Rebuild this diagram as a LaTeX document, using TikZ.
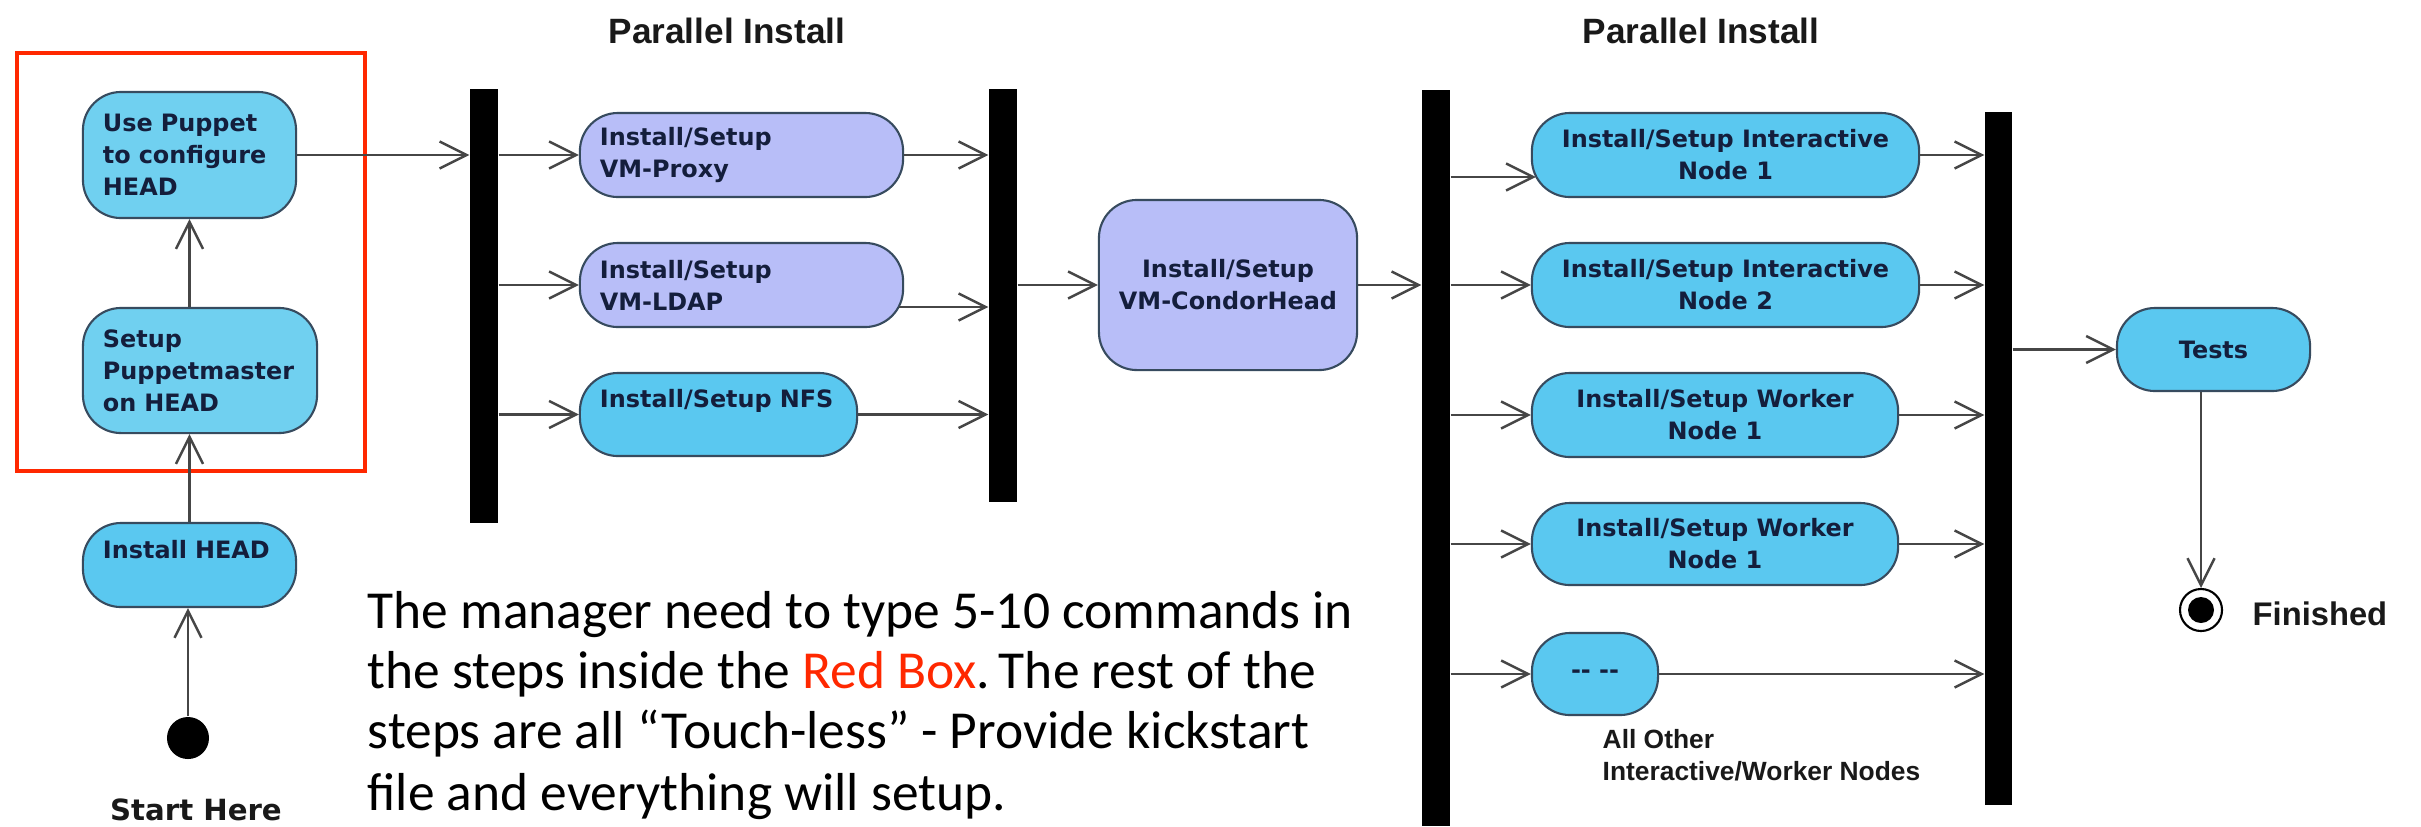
\documentclass[tikz,border=0pt]{standalone}
\usepackage{fontspec}
\usetikzlibrary{arrows.meta,calc}
\newfontfamily\djv{DejaVu Sans}
\newfontfamily\lib{Liberation Sans}
\newfontfamily\carl{Carlito}
\definecolor{cyanfill}{RGB}{90,200,240}
\definecolor{cyanlite}{RGB}{112,208,240}
\definecolor{lavfill}{RGB}{184,190,248}
\definecolor{nodeline}{RGB}{55,75,95}
\definecolor{nodetext}{RGB}{20,30,60}
\definecolor{edgecol}{RGB}{70,70,70}
\definecolor{redbox}{RGB}{255,40,0}
\definecolor{labelcol}{RGB}{25,25,25}
\begin{document}
\begin{tikzpicture}[x=0.01cm,y=-0.01cm,
  act/.style={draw=nodeline, line width=0.6pt, rounded corners=0.38cm,
    inner xsep=0.2cm, inner ysep=0pt, text=nodetext,
    font=\djv\bfseries\fontsize{6.8}{9.1}\selectfont},
  actL/.style={act, align=left},
  actC/.style={act, align=center},
  bar/.style={fill=black, draw=none, minimum width=0.28cm, inner sep=0pt},
  flow/.style={draw=edgecol, line width=0.7pt,
    -{Straight Barb[length=2.7mm,width=2.7mm]}},
  lbl/.style={inner sep=0pt, text=labelcol},
  title/.style={lbl, anchor=base, font=\lib\bfseries\fontsize{10}{12}\selectfont},
  para/.style={inner sep=0pt, anchor=base west, text=black,
    font=\carl\fontsize{15.2}{17.3}\selectfont}
]
\useasboundingbox (0,0) rectangle (2421,826);
\fill[white] (0,0) rectangle (2421,826);

% red box
\draw[redbox, line width=1.4pt] (17,53) rectangle (365,471);

% left column
\node[actL, fill=cyanlite, text width=1.73cm, minimum height=1.26cm] (puppet) at (189.5,155) {Use Puppet\\to configure\\HEAD};
\node[actL, fill=cyanlite, text width=1.94cm, minimum height=1.25cm] (setup) at (200,370.5) {Setup\\Puppetmaster\\on HEAD};
\node[actL, fill=cyanfill, text width=1.73cm, minimum height=0.84cm] (ihead) at (189.5,565) {Install HEAD\\\mbox{}};
\node[circle, fill=black, minimum size=0.42cm, inner sep=0pt] (start) at (188,738) {};
\node[lbl, anchor=base, font=\djv\bfseries\fontsize{8.3}{10}\selectfont] (starthere) at (196,820) {Start Here};

% titles
\node[title] (par1) at (727,43) {Parallel Install};
\node[title] (par2) at (1701,43) {Parallel Install};

% bars
\node[bar, minimum height=4.34cm] (bar1) at (484,306) {};
\node[bar, minimum height=4.13cm] (bar2) at (1003,295.5) {};
\node[bar, minimum height=7.36cm] (bar3) at (1436,458) {};
\node[bar, minimum width=0.27cm, minimum height=6.93cm] (bar4) at (1998.5,458.5) {};

% first parallel block
\node[actL, fill=lavfill, text width=2.83cm, minimum height=0.84cm] (vmproxy) at (741.5,155) {Install/Setup\\VM-Proxy};
\node[actL, fill=lavfill, text width=2.83cm, minimum height=0.84cm] (vmldap) at (741.5,285) {Install/Setup\\VM-LDAP};
\node[actL, fill=cyanfill, text width=2.37cm, minimum height=0.83cm] (nfs) at (718.5,414.5) {Install/Setup NFS\\\mbox{}};

\node[actC, fill=lavfill, minimum width=2.58cm, minimum height=1.70cm] (condor) at (1228,285) {Install/Setup\\VM-CondorHead};

% second parallel block
\node[actC, fill=cyanfill, minimum width=3.87cm, minimum height=0.84cm] (int1) at (1725.5,155) {Install/Setup Interactive\\Node 1};
\node[actC, fill=cyanfill, minimum width=3.87cm, minimum height=0.84cm] (int2) at (1725.5,285) {Install/Setup Interactive\\Node 2};
\node[actC, fill=cyanfill, minimum width=3.66cm, minimum height=0.84cm] (w1a) at (1715,415) {Install/Setup Worker\\Node 1};
\node[actC, fill=cyanfill, minimum width=3.66cm, minimum height=0.82cm] (w1b) at (1715,544) {Install/Setup Worker\\Node 1};
\node[actC, fill=cyanfill, minimum width=1.26cm, minimum height=0.82cm] (dots) at (1595,674) {{-}{-}~{-}{-}};
\node[lbl, anchor=base west, font=\lib\bfseries\fontsize{7.5}{9}\selectfont] (other1) at (1602,748) {All Other};
\node[lbl, anchor=base west, font=\lib\bfseries\fontsize{7.5}{9}\selectfont] (other2) at (1602,780) {Interactive/Worker Nodes};

\node[actC, fill=cyanfill, minimum width=1.93cm, minimum height=0.83cm] (tests) at (2213.5,349.5) {Tests};
\node[circle, draw=black, line width=0.6pt, fill=white, minimum size=0.42cm, inner sep=0pt] (endc) at (2201,610) {};
\fill[black] (endc.center) circle[radius=0.13cm];
\node[lbl, anchor=base west, font=\lib\bfseries\fontsize{9.3}{11}\selectfont] (finished) at (2252,625) {Finished};

% paragraph
\node[para] (p1) at (367,628) {The manager need to type 5-10 commands in};
\node[para] (p2) at (367,688) {the steps inside the \textcolor{redbox}{Red Box}.\,The rest of the};
\node[para] (p3) at (367,748) {steps are all “Touch-less” - Provide kickstart};
\node[para] (p4) at (367,810) {file and everything will setup.};

% helper coordinates
\coordinate (ldapout) at ($(vmldap.east)+(-5,22)$);
\coordinate (int1in) at ($(int1.west)+(5,22)$);

% connectors
\draw[flow] (start) -- (start |- ihead.south);
\draw[flow] (ihead.north) -- (ihead.north |- setup.south);
\draw[flow] (puppet.south |- setup.north) -- (puppet.south);
\draw[flow] (puppet.east) -- (puppet.east -| bar1.west);
\draw[flow] (bar1.east |- vmproxy.west) -- (vmproxy.west);
\draw[flow] (bar1.east |- vmldap.west) -- (vmldap.west);
\draw[flow] (bar1.east |- nfs.west) -- (nfs.west);
\draw[flow] (vmproxy.east) -- (vmproxy.east -| bar2.west);
\draw[flow] (ldapout) -- (ldapout -| bar2.west);
\draw[flow] (nfs.east) -- (nfs.east -| bar2.west);
\draw[flow] (bar2.east |- condor.west) -- (condor.west);
\draw[flow] (condor.east) -- (condor.east -| bar3.west);
\draw[flow] (bar3.east |- int1in) -- (int1in);
\draw[flow] (bar3.east |- int2.west) -- (int2.west);
\draw[flow] (bar3.east |- w1a.west) -- (w1a.west);
\draw[flow] (bar3.east |- w1b.west) -- (w1b.west);
\draw[flow] (bar3.east |- dots.west) -- (dots.west);
\draw[flow] (int1.east) -- (int1.east -| bar4.west);
\draw[flow] (int2.east) -- (int2.east -| bar4.west);
\draw[flow] (w1a.east) -- (w1a.east -| bar4.west);
\draw[flow] (w1b.east) -- (w1b.east -| bar4.west);
\draw[flow] (dots.east) -- (dots.east -| bar4.west);
\draw[flow] (bar4.east |- tests.west) -- (tests.west);
\draw[flow] (tests.south -| endc) -- (endc);
\end{tikzpicture}
\end{document}
